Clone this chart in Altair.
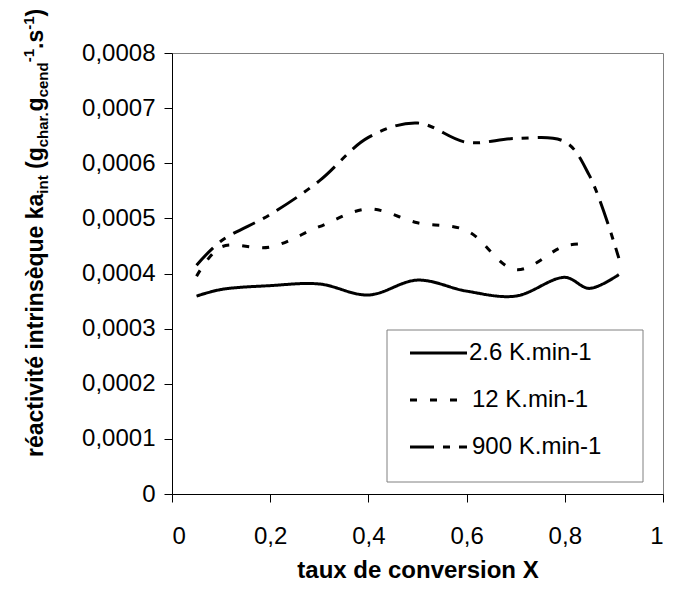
import altair as alt
import pandas as pd

# ---------------- data ----------------
series_names = ["2.6 K.min-1", "12 K.min-1", "900 K.min-1"]

x_26 = [0.05, 0.1, 0.2, 0.3, 0.4, 0.5, 0.6, 0.7, 0.8, 0.85, 0.91]
y_26 = [0.000359, 0.000371, 0.000378, 0.000381, 0.000361, 0.000388,
        0.000368, 0.000359, 0.000393, 0.000373, 0.000398]

x_12 = [0.05, 0.1, 0.2, 0.3, 0.4, 0.5, 0.6, 0.7, 0.8, 0.85]
y_12 = [0.000395, 0.000448, 0.000448, 0.000485, 0.000517, 0.000492,
        0.000478, 0.000407, 0.000450, 0.000454]

x_900 = [0.05, 0.1, 0.2, 0.3, 0.4, 0.5, 0.6, 0.7, 0.8, 0.85, 0.91]
y_900 = [0.000415, 0.000459, 0.000507, 0.000568, 0.000647, 0.000673,
         0.000638, 0.000645, 0.000639, 0.000578, 0.000428]

x_ticks = [0, 0.2, 0.4, 0.6, 0.8, 1]
y_ticks = [0, 0.0001, 0.0002, 0.0003, 0.0004, 0.0005, 0.0006, 0.0007, 0.0008]

x_title = "taux de conversion X"
# y title pieces: (text, role) role: n=normal, sub=subscript, sup=superscript, gap=space
y_title_parts = [
    ("réactivité intrinsèque ka", "n"), ("int", "sub"), (" ", "gap"), ("(g", "n"),
    ("char.", "sub"), ("g", "n"), ("cend", "sub"), ("-1", "sup"),
    (".s", "n"), ("-1", "sup"), (")", "n"),
]

# ---------------- layout constants ----------------
W, H = 491, 441
FONT = "Liberation Sans"
dash_range = [[1, 0], [7, 13], [24, 9, 7, 9]]

frames = []
for name, xs, ys in zip(series_names, [x_26, x_12, x_900], [y_26, y_12, y_900]):
    frames.append(pd.DataFrame({"X": xs, "v": ys, "series": name}))
df = pd.concat(frames, ignore_index=True)

dash_scale = alt.Scale(domain=series_names, range=dash_range)

x_enc = alt.X("X:Q", scale=alt.Scale(domain=[0, 1], nice=False),
              axis=alt.Axis(values=x_ticks, title=x_title, tickSize=8, labelPadding=22,
                            titlePadding=10,
                            labelExpr="datum.value == 0 ? '0' : datum.value == 1 ? '1' : replace(format(datum.value, '.1f'), '.', ',')"))
y_enc = alt.Y("v:Q", scale=alt.Scale(domain=[0, 0.0008], nice=False),
              axis=alt.Axis(values=y_ticks, title=None, tickSize=8, labelPadding=9,
                            labelExpr="datum.value == 0 ? '0' : replace(format(datum.value, '.4f'), '.', ',')"))

lines = alt.Chart(df).mark_line(interpolate="catmull-rom", color="black",
                                strokeWidth=3, strokeCap="butt").encode(
    x=x_enc, y=y_enc,
    strokeDash=alt.StrokeDash("series:N", scale=dash_scale, legend=None),
    detail="series:N",
)

# ---------------- manual legend ----------------
legend_box = alt.Chart(pd.DataFrame({"k": [0]})).mark_rect(
    fill="white", stroke="#808080", strokeWidth=1).encode(
    x=alt.value(215), x2=alt.value(471), y=alt.value(277), y2=alt.value(429),
)
leg = pd.DataFrame({
    "series": series_names,
    "lx1": [238] * 3, "lx2": [295] * 3,
    "ly": [300, 347, 394],
    "tx": [297, 300, 300],
})
legend_lines = alt.Chart(leg).mark_rule(color="black", strokeWidth=3, strokeCap="butt").encode(
    x=alt.X("lx1:Q", scale=None), x2="lx2:Q",
    y=alt.Y("ly:Q", scale=None),
    strokeDash=alt.StrokeDash("series:N", scale=dash_scale, legend=None),
)
legend_text = alt.Chart(leg).mark_text(align="left", baseline="middle", font=FONT,
                                       fontSize=24, color="black").encode(
    x=alt.X("tx:Q", scale=None), y=alt.Y("ly:Q", scale=None), text="series:N",
)

# ---------------- rotated y title with sub/superscripts ----------------
arial_bold = {" ": 278, "(": 333, ")": 333, "-": 333, ".": 278, "1": 556,
              "a": 556, "c": 556, "d": 611, "e": 556, "é": 556, "è": 556,
              "g": 611, "h": 611, "i": 278, "k": 556, "n": 611, "q": 611,
              "r": 389, "s": 556, "t": 333, "u": 611, "v": 556}
MAIN, SMALL = 23, 15
shift = {"n": 0, "gap": 0, "sub": 5, "sup": -9}
rows = []
cursor = 404.0   # start (bottom) of the rotated title, plot coords
base_x = -129.0  # baseline of the rotated title, plot coords
for text, role in y_title_parts:
    fs = MAIN if role in ("n", "gap") else SMALL
    if role != "gap":
        rows.append({"t": text, "tx": base_x + shift[role], "ty": cursor, "fs": fs})
    cursor -= sum(arial_bold.get(ch, 556) for ch in text) / 1000 * fs
tdf = pd.DataFrame(rows)
y_title = alt.Chart(tdf).mark_text(angle=270, align="left", baseline="alphabetic",
                                   font=FONT, fontWeight="bold", color="black").encode(
    x=alt.X("tx:Q", scale=None), y=alt.Y("ty:Q", scale=None),
    text="t:N", size=alt.Size("fs:Q", scale=None, legend=None),
)

chart = alt.layer(lines, legend_box, legend_lines, legend_text, y_title).properties(
    width=W, height=H,
    autosize=alt.AutoSizeParams(type="none"),
    padding={"left": 164, "top": 45, "right": 15, "bottom": 91},
    background="white",
).configure_view(stroke="#808080", strokeWidth=1).configure_axis(
    grid=False, domainColor="black", tickColor="black", labelColor="black",
    titleColor="black", labelFont=FONT, titleFont=FONT, labelFontSize=24,
    titleFontSize=24, titleFontWeight="bold", domainWidth=1, tickWidth=1,
)

chart.save("out.html", embed_options={"renderer": "svg", "actions": False})
